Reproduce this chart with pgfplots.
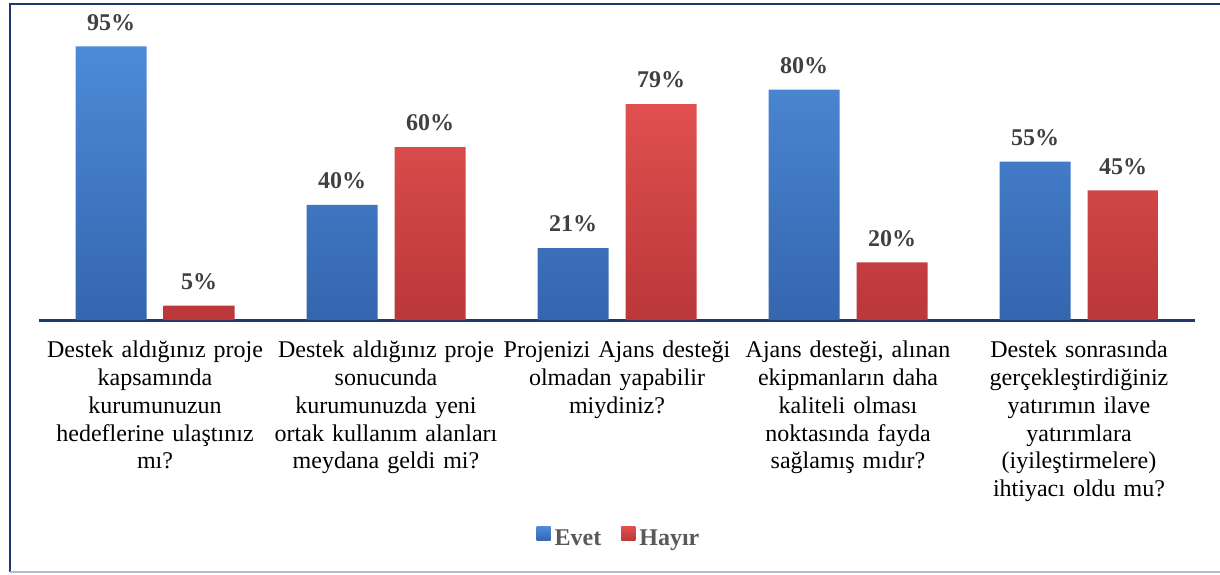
\documentclass[border=0pt]{standalone}
\usepackage{pgfplots}
\pgfplotsset{compat=1.18}
\usepackage{fontspec}
\setmainfont{Liberation Serif}
\definecolor{navy}{HTML}{1F3870}
\definecolor{blueT}{HTML}{4D8AD8}
\definecolor{blueB}{HTML}{3466AE}
\definecolor{redT}{HTML}{E0504F}
\definecolor{redB}{HTML}{BA373A}
\definecolor{lbl}{HTML}{404040}
\definecolor{leg}{HTML}{595959}
\definecolor{botline}{HTML}{B4BCD2}
\begin{document}
\begin{tikzpicture}
\useasboundingbox (0,0) rectangle (610pt,287pt);
\draw[navy, line width=1pt] (4.75pt,1pt) -- (4.75pt,285pt) -- (610pt,285pt);
\draw[botline, line width=0.8pt] (4.75pt,1pt) -- (610pt,1pt);
\begin{axis}[
  at={(19.75pt,127pt)}, anchor=south west,
  scale only axis, width=577.5pt, height=144pt,
  ybar=8.5pt, bar width=35.5pt,
  xmin=-0.5, xmax=4.5, ymin=0, ymax=100,
  hide y axis,
  axis x line*=bottom,
  x axis line style={navy, line width=1.5pt, -},
  xtick=data, major tick length=0pt,
  xticklabels={
    {Destek aldığınız proje\\kapsamında\\kurumunuzun\\hedeflerine ulaştınız\\mı?},
    {Destek aldığınız proje\\sonucunda\\kurumunuzda yeni\\ortak kullanım alanları\\meydana geldi mi?},
    {Projenizi Ajans desteği\\olmadan yapabilir\\miydiniz?},
    {Ajans desteği, alınan\\ekipmanların daha\\kaliteli olması\\noktasında fayda\\sağlamış mıdır?},
    {Destek sonrasında\\gerçekleştirdiğiniz\\yatırımın ilave\\yatırımlara\\(iyileştirmelere)\\ihtiyacı oldu mu?}},
  xticklabel style={align=center, text width=118pt, anchor=north, yshift=-7pt,
    font=\fontsize{12}{13.9}\selectfont},
  point meta=explicit,
  nodes near coords={\pgfmathprintnumber{\pgfplotspointmeta}\%},
  nodes near coords style={font=\fontsize{12}{14}\selectfont\bfseries, text=lbl, anchor=south, yshift=4.5pt,
    /pgf/number format/assume math mode=true},
  legend style={at={(0.5026,-0.76)}, anchor=center, draw=none, fill=none,
    legend columns=2, font=\fontsize{12}{14}\selectfont\bfseries, text=leg,
    /tikz/every even column/.append style={column sep=8pt}},
  legend image code/.code={\path[#1, draw=none] (0pt,-1pt) rectangle (7pt,6pt);},
]
\addplot[draw=none, top color=blueT, bottom color=blueB] coordinates {(0,95) [95] (1,40) [40] (2,25) [21] (3,80) [80] (4,55) [55]};
\addplot[draw=none, top color=redT, bottom color=redB] coordinates {(0,5) [5] (1,60) [60] (2,75) [79] (3,20) [20] (4,45) [45]};
\legend{Evet, Hayır}
\end{axis}
\end{tikzpicture}
\end{document}
